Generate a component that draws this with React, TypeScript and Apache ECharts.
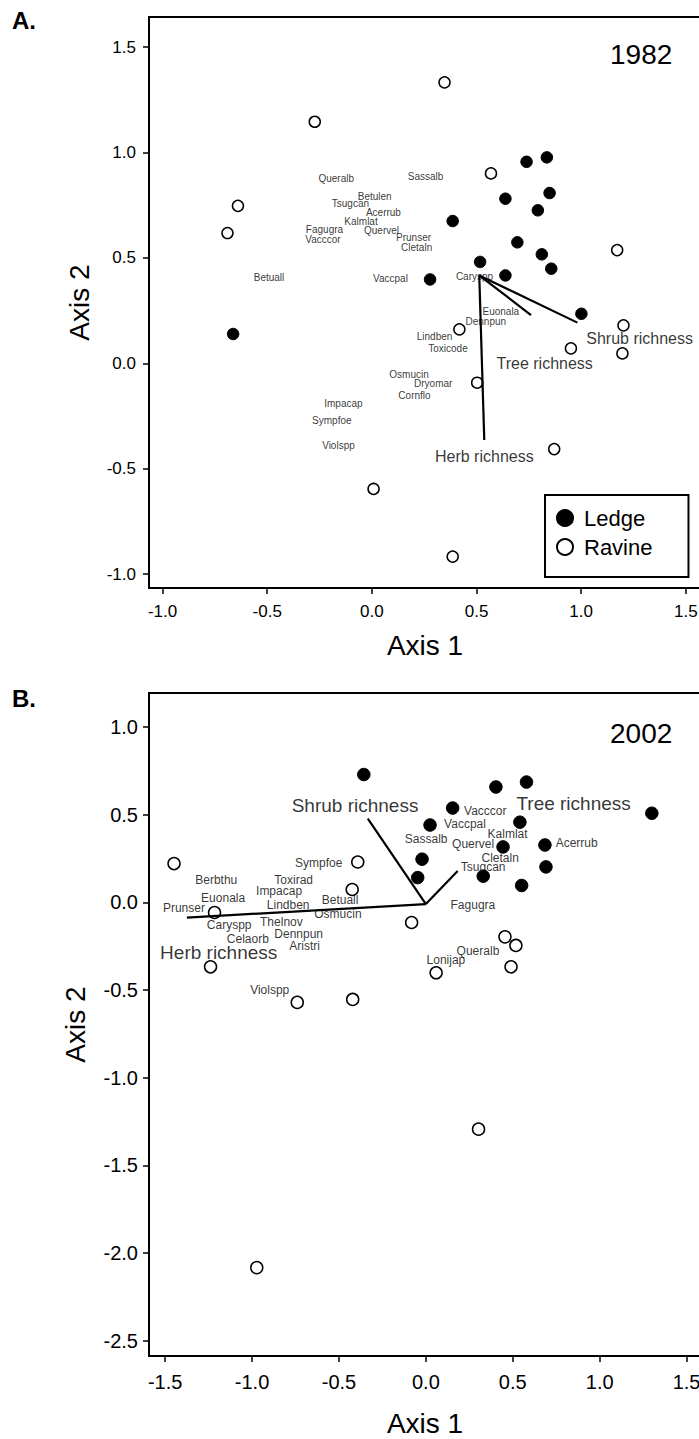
import React, { useEffect, useRef } from "react";
import * as echarts from "echarts";

const FONT = '"Liberation Sans", Arial, Helvetica, sans-serif';

// ---------- Panel A (1982) ----------
const ledgeA: [number, number][] = [
  [0.739, 0.956], [0.836, 0.977], [0.638, 0.781], [0.849, 0.808], [0.793, 0.726],
  [0.386, 0.675], [0.695, 0.574], [0.812, 0.517], [0.857, 0.449], [0.517, 0.481],
  [0.638, 0.417], [0.278, 0.398], [1.001, 0.235], [-0.663, 0.139],
];
const ravineA: [number, number][] = [
  [0.347, 1.333], [-0.273, 1.146], [0.569, 0.901], [-0.640, 0.747], [-0.690, 0.618],
  [1.172, 0.537], [1.202, 0.180], [0.418, 0.161], [0.951, 0.071], [1.197, 0.047],
  [0.503, -0.092], [0.871, -0.407], [0.008, -0.596], [0.386, -0.917],
];
const speciesNamesA = [
  "Queralb", "Sassalb", "Betulen", "Tsugcan", "Acerrub", "Kalmlat", "Fagugra", "Quervel",
  "Vacccor", "Prunser", "Cletaln", "Betuall", "Vaccpal", "Caryspp", "Euonala", "Dennpun",
  "Lindben", "Toxicode", "Osmucin", "Dryomar", "Cornflo", "Impacap", "Sympfoe", "Violspp",
];
const speciesPosA: [number, number][] = [
  [-0.258, 0.878], [0.169, 0.885], [-0.070, 0.790], [-0.194, 0.759], [-0.031, 0.716],
  [-0.134, 0.675], [-0.318, 0.637], [-0.040, 0.632], [-0.321, 0.588], [0.113, 0.596],
  [0.137, 0.550], [-0.567, 0.408], [0.003, 0.400], [0.399, 0.414], [0.526, 0.248],
  [0.445, 0.199], [0.212, 0.126], [0.267, 0.068], [0.081, -0.051], [0.199, -0.095],
  [0.124, -0.154], [-0.230, -0.190], [-0.288, -0.272], [-0.240, -0.392],
];
const vectorNamesA = ["Shrub richness", "Tree richness", "Herb richness"];
const vectorOriginA: [number, number] = [0.513, 0.417];
const vectorEndA: [number, number][] = [[0.982, 0.193], [0.760, 0.229], [0.537, -0.364]];
const vectorLabelA: [number, number][] = [[1.022, 0.120], [0.593, 0.0], [0.299, -0.443]];
const ticksA_x = [-1.0, -0.5, 0.0, 0.5, 1.0, 1.5];
const ticksA_y = [-1.0, -0.5, 0.0, 0.5, 1.0, 1.5];

// ---------- Panel B (2002) ----------
const ledgeB: [number, number][] = [
  [-0.357, 0.729], [0.403, 0.658], [0.579, 0.686], [0.154, 0.538], [1.300, 0.508],
  [0.024, 0.441], [0.541, 0.457], [0.444, 0.316], [0.685, 0.327], [-0.022, 0.246],
  [0.691, 0.202], [-0.047, 0.141], [0.330, 0.149], [0.551, 0.096],
];
const ravineB: [number, number][] = [
  [-0.392, 0.230], [-0.424, 0.073], [-0.082, -0.115], [0.455, -0.197], [0.518, -0.246],
  [0.490, -0.368], [0.059, -0.402], [-0.421, -0.554], [-1.449, 0.221], [-1.216, -0.058],
  [-1.239, -0.368], [-0.740, -0.571], [0.303, -1.294], [-0.973, -2.084],
];
const speciesNamesB = [
  "Sympfoe", "Berbthu", "Toxirad", "Impacap", "Euonala", "Betuall", "Lindben", "Prunser",
  "Osmucin", "Caryspp", "Thelnov", "Dennpun", "Celaorb", "Aristri", "Violspp", "Vacccor",
  "Vaccpal", "Sassalb", "Kalmlat", "Acerrub", "Quervel", "Cletaln", "Tsugcan", "Fagugra",
  "Queralb", "Lonijap",
];
const speciesPosB: [number, number][] = [
  [-0.756, 0.225], [-1.330, 0.126], [-0.875, 0.130], [-0.980, 0.062], [-1.296, 0.027],
  [-0.602, 0.012], [-0.918, -0.017], [-1.516, -0.035], [-0.645, -0.068], [-1.263, -0.131],
  [-0.957, -0.112], [-0.875, -0.182], [-1.148, -0.212], [-0.789, -0.250], [-1.014, -0.501],
  [0.217, 0.521], [0.102, 0.444], [-0.124, 0.364], [0.352, 0.392], [0.744, 0.339],
  [0.148, 0.330], [0.317, 0.253], [0.198, 0.203], [0.139, -0.017], [0.174, -0.279],
  [0.001, -0.330],
];
const vectorNamesB = ["Shrub richness", "Tree richness", "Herb richness"];
const vectorOriginB: [number, number] = [0.0, -0.01];
const vectorEndB: [number, number][] = [[-0.334, 0.478], [0.183, 0.179], [-1.375, -0.087]];
const vectorLabelB: [number, number][] = [[-0.775, 0.554], [0.518, 0.563], [-1.532, -0.287]];
const ticksB_x = [-1.5, -1.0, -0.5, 0.0, 0.5, 1.0, 1.5];
const ticksB_y = [-2.5, -2.0, -1.5, -1.0, -0.5, 0.0, 0.5, 1.0];

const legendNames = ["Ledge", "Ravine"];
const yearLabels = ["1982", "2002"];
const panelLetters = ["A.", "B."];
const axisTitles = ["Axis 1", "Axis 2"];

function valueAxis(
  gridIndex: number,
  min: number,
  max: number,
  ticks: number[],
  fontSize: number,
  margin: number,
  name: string,
  nameGap: number,
  isY: boolean
) {
  return {
    type: "value",
    gridIndex,
    min,
    max,
    name,
    nameLocation: "middle",
    nameGap,
    nameRotate: isY ? 90 : 0,
    nameTextStyle: { fontSize: 28, fontFamily: FONT, color: "#000" },
    axisLine: { show: true, onZero: false, lineStyle: { color: "#000", width: 2 } },
    axisTick: {
      show: true,
      inside: false,
      length: 6,
      customValues: ticks,
      lineStyle: { color: "#000", width: 1.5 },
    },
    axisLabel: {
      show: true,
      customValues: ticks,
      margin,
      fontSize,
      fontFamily: FONT,
      color: "#000",
      formatter: (v: number) => v.toFixed(1),
    },
    splitLine: { show: false },
  };
}

function pointSeries(name: string, data: [number, number][], idx: number, filled: boolean, size: number) {
  return {
    type: "scatter",
    name,
    xAxisIndex: idx,
    yAxisIndex: idx,
    data,
    symbol: "circle",
    symbolSize: size,
    silent: true,
    itemStyle: filled
      ? { color: "#000", borderColor: "#000", borderWidth: 1, opacity: 1 }
      : { color: "#fff", borderColor: "#000", borderWidth: 1.5, opacity: 1 },
    z: 3,
  };
}

function textSeries(names: string[], pos: [number, number][], idx: number, fontSize: number) {
  return {
    type: "scatter",
    xAxisIndex: idx,
    yAxisIndex: idx,
    silent: true,
    symbolSize: 1,
    itemStyle: { color: "rgba(0,0,0,0)" },
    data: names.map((n, i) => ({ name: n, value: pos[i] })),
    label: {
      show: true,
      position: "right",
      distance: 0,
      formatter: (p: any) => p.name,
      fontSize,
      fontFamily: FONT,
      color: "#000",
    },
    z: 4,
  };
}

function vectorSeries(origin: [number, number], ends: [number, number][], idx: number) {
  return ends.map((e) => ({
    type: "line",
    xAxisIndex: idx,
    yAxisIndex: idx,
    silent: true,
    symbol: "none",
    data: [origin, e],
    lineStyle: { color: "#000", width: 2.2 },
    z: 5,
  }));
}

export default function App() {
  const ref = useRef<HTMLDivElement>(null);

  useEffect(() => {
    document.body.style.margin = "0";
    if (!ref.current) return;
    const chart = echarts.init(ref.current, undefined, { renderer: "svg" });
    const option: any = {
      animation: false,
      backgroundColor: "#fff",
      grid: [
        {
          left: 149, top: 17, right: -2, height: 571,
          show: true, borderColor: "#000", borderWidth: 2,
          containLabel: false, outerBoundsMode: "none",
        },
        {
          left: 149, top: 693, right: -2, height: 663,
          show: true, borderColor: "#000", borderWidth: 2,
          containLabel: false, outerBoundsMode: "none",
        },
      ],
      xAxis: [
        valueAxis(0, -1.065, 1.5725, ticksA_x, 17, 15, axisTitles[0], 43, false),
        valueAxis(1, -1.593, 1.583, ticksB_x, 20, 16, axisTitles[0], 53, false),
      ],
      yAxis: [
        valueAxis(0, -1.066, 1.643, ticksA_y, 17, 13, axisTitles[1], 56, true),
        valueAxis(1, -2.588, 1.194, ticksB_y, 20, 11, axisTitles[1], 60, true),
      ],
      legend: {
        data: legendNames.map((n) => ({ name: n, icon: "circle" })),
        orient: "vertical",
        left: 545,
        top: 495,
        padding: [12, 36, 19, 11],
        itemWidth: 28,
        itemHeight: 16,
        itemGap: 7,
        borderColor: "#000",
        borderWidth: 2,
        selectedMode: false,
        textStyle: { fontSize: 22, fontFamily: FONT, color: "#000" },
      },
      graphic: [
        {
          type: "text", left: 12, top: 8,
          style: { text: panelLetters[0], font: `bold 24px ${FONT}`, fill: "#000" },
        },
        {
          type: "text", left: 12, top: 686,
          style: { text: panelLetters[1], font: `bold 24px ${FONT}`, fill: "#000" },
        },
        {
          type: "text", left: 610, top: 40,
          style: { text: yearLabels[0], font: `28px ${FONT}`, fill: "#000" },
        },
        {
          type: "text", left: 610, top: 719,
          style: { text: yearLabels[1], font: `28px ${FONT}`, fill: "#000" },
        },
      ],
      series: [
        pointSeries(legendNames[0], ledgeA, 0, true, 11.5),
        pointSeries(legendNames[1], ravineA, 0, false, 11),
        textSeries(speciesNamesA, speciesPosA, 0, 10),
        textSeries(vectorNamesA, vectorLabelA, 0, 16),
        ...vectorSeries(vectorOriginA, vectorEndA, 0),
        pointSeries(legendNames[0], ledgeB, 1, true, 12.5),
        pointSeries(legendNames[1], ravineB, 1, false, 12),
        textSeries(speciesNamesB, speciesPosB, 1, 12),
        textSeries(vectorNamesB, vectorLabelB, 1, 19),
        ...vectorSeries(vectorOriginB, vectorEndB, 1),
      ],
    };
    chart.setOption(option);
    return () => chart.dispose();
  }, []);

  return (
    <div
      ref={ref}
      style={{ position: "absolute", left: 0, top: 0, width: 699, height: 1439, background: "#fff" }}
    />
  );
}
